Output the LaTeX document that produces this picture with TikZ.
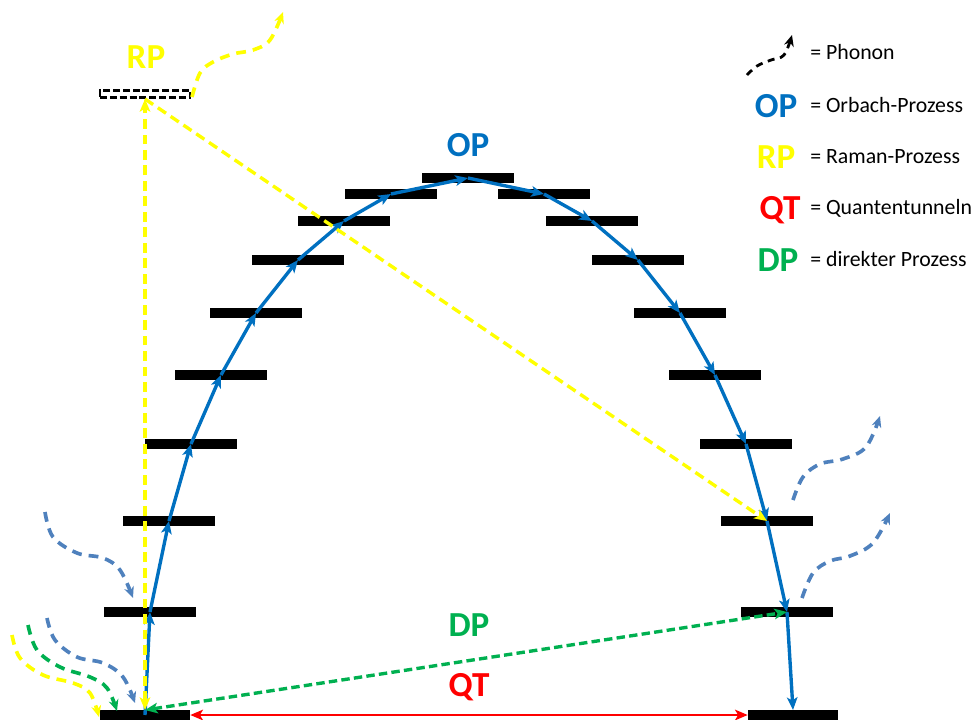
\documentclass[tikz,border=0pt]{standalone}
\usepackage{fontspec}
\setmainfont{Carlito}
\usetikzlibrary{arrows.meta}
\definecolor{opblue}{RGB}{0,112,192}
\definecolor{phblue}{RGB}{79,129,189}
\definecolor{rpyellow}{RGB}{255,255,0}
\definecolor{dpgreen}{RGB}{0,176,80}
\definecolor{qtred}{RGB}{255,0,0}
\begin{document}
\begin{tikzpicture}[x=0.025cm,y=-0.025cm,
  >={Stealth[length=9pt,width=7.5pt,inset=2.2pt]},
  bar/.style={rectangle,fill=black,minimum width=2.3cm,minimum height=0.235cm,inner sep=0pt},
  bbar/.style={bar,minimum width=2.25cm},
  op/.style={opblue,line width=2.4pt,->},
  phon/.style={line width=2.6pt,dash pattern=on 7pt off 5pt,-{Stealth[length=8pt,width=7pt]}},
  ydash/.style={rpyellow,line width=2.4pt,dash pattern=on 7pt off 4pt},
  gdash/.style={dpgreen,line width=2.4pt,dash pattern=on 6pt off 3pt},
  lbl/.style={font=\fontsize{25}{30}\selectfont\bfseries,anchor=base,inner sep=0pt},
  leg/.style={font=\fontsize{15.5}{18}\selectfont,anchor=base west,inner sep=0pt}]
\useasboundingbox (0,0) rectangle (975,719);

% energy levels
\node[bbar] (B0) at (145,715) {};
\node[bar] (L1) at (150,612) {};
\node[bar] (L2) at (169,521) {};
\node[bar] (L3) at (191,444) {};
\node[bar] (L4) at (221,375) {};
\node[bar] (L5) at (256,313) {};
\node[bar] (L6) at (298,260) {};
\node[bar] (L7) at (344,221) {};
\node[bar] (L8) at (391,194) {};
\node[bar] (T)  at (468,178) {};
\node[bar] (R8) at (544,194) {};
\node[bar] (R7) at (592,221) {};
\node[bar] (R6) at (638,260) {};
\node[bar] (R5) at (680,313) {};
\node[bar] (R4) at (715,375) {};
\node[bar] (R3) at (746,444) {};
\node[bar] (R2) at (767,521) {};
\node[bar] (R1) at (787,612) {};
\node[bbar] (B1) at (793,715) {};

% virtual level
\node[rectangle,draw=black,line width=2pt,dash pattern=on 5pt off 2pt,
      minimum width=2.25cm,minimum height=0.18cm,inner sep=0pt] (RPB) at (145,94) {};

% Orbach process
\draw[op] (B0.center) -- (L1.center);
\draw[op] (L1.center) -- (L2.center);
\draw[op] (L2.center) -- (L3.center);
\draw[op] (L3.center) -- (L4.center);
\draw[op] (L4.center) -- (L5.center);
\draw[op] (L5.center) -- (L6.center);
\draw[op] (L6.center) -- (L7.center);
\draw[op] (L7.center) -- (L8.center);
\draw[op] (L8.center) -- (T.center);
\draw[op] (T.center) -- (R8.center);
\draw[op] (R8.center) -- (R7.center);
\draw[op] (R7.center) -- (R6.center);
\draw[op] (R6.center) -- (R5.center);
\draw[op] (R5.center) -- (R4.center);
\draw[op] (R4.center) -- (R3.center);
\draw[op] (R3.center) -- (R2.center);
\draw[op] (R2.center) -- (R1.center);
\draw[op] (R1.center) -- (B1.north);

% Raman process
\draw[ydash,<->] (B0.north) -- (RPB.south);
\draw[ydash,->] (RPB.south) -- (R2.center);

% direct process
\draw[gdash,<->] (B0.north) -- (R1.center);

% quantum tunnelling
\draw[qtred,line width=2pt,<->] (B0.east) -- (B1.west);

% phonons
\draw[phon,rpyellow] plot[smooth,tension=0.6] coordinates {(192,97) (200,73) (213,62) (233,54) (253,50) (270,40) (283,12)};
\draw[phon,phblue] plot[smooth,tension=0.6] coordinates {(793,500) (803,477) (820,464) (843,459) (866,447) (880,416)};
\draw[phon,phblue] plot[smooth,tension=0.6] coordinates {(802,598) (813,573) (830,561) (850,556) (873,543) (890,513)};
\draw[phon,phblue] plot[smooth,tension=0.6] coordinates {(45,512) (53,537) (77,553) (103,558) (120,570) (133,598)};
\draw[phon,phblue] plot[smooth,tension=0.6] coordinates {(47,618) (55,640) (77,657) (103,663) (123,677) (135,703)};
\draw[phon,dpgreen] plot[smooth,tension=0.6] coordinates {(28,625) (37,650) (60,667) (90,677) (107,688) (117,711)};
\draw[phon,rpyellow] plot[smooth,tension=0.6] coordinates {(12,635) (20,658) (43,675) (73,683) (90,693) (99,717)};

% labels
\node[lbl,text=rpyellow] (lRP) at (146,68) {RP};
\node[lbl,text=opblue] (lOP) at (468,156) {OP};
\node[lbl,text=dpgreen] (lDP) at (469,636) {DP};
\node[lbl,text=qtred] (lQT) at (469,696) {QT};

% legend
\draw[phon,black,line width=2pt,dash pattern=on 5pt off 4pt] plot[smooth,tension=0.6] coordinates {(747,75) (757,66) (771,60) (784,55) (792,35)};
\node[leg] (tPh) at (810,59) {= Phonon};
\node[lbl,text=opblue] (gOP) at (776,117) {OP};
\node[leg] (tOP) at (810,112) {= Orbach-Prozess};
\node[lbl,text=rpyellow] (gRP) at (776,168) {RP};
\node[leg] (tRP) at (810,163) {= Raman-Prozess};
\node[lbl,text=qtred] (gQT) at (780,219) {QT};
\node[leg] (tQT) at (810,214) {= Quantentunneln};
\node[lbl,text=dpgreen] (gDP) at (778,271) {DP};
\node[leg] (tDP) at (810,266) {= direkter Prozess};
\end{tikzpicture}
\end{document}
